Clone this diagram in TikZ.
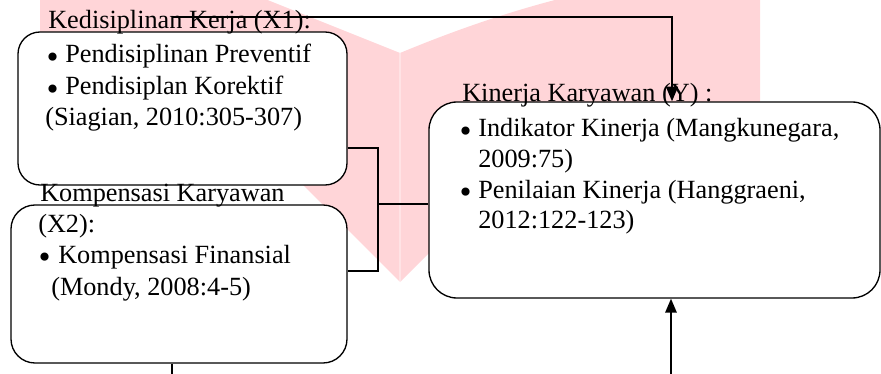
\documentclass[tikz,border=0pt]{standalone}
\usepackage{fontspec}
\setmainfont{Liberation Serif}
\newfontfamily\bulfont{DejaVu Sans}
\usetikzlibrary{arrows.meta}
\definecolor{wm}{RGB}{255,213,216}
\tikzset{
  box/.style={draw=black, line width=1pt, fill=white, rounded corners=#1, inner sep=0pt},
  txt/.style={anchor=base west, inner sep=0pt, font=\fontsize{19.7pt}{23pt}\selectfont},
  bul/.style={anchor=base west, inner sep=0pt, yshift=-3.1pt, font=\bulfont\fontsize{21pt}{23pt}\selectfont},
  conn/.style={line width=0.9pt},
  arr/.style={line width=1.1pt, -{Triangle[length=11pt,width=9pt]}},
  arrb/.style={line width=1.5pt, -{Triangle[length=10.5pt,width=8.5pt]}},
}
\begin{document}
\begin{tikzpicture}[x=0.75pt,y=-0.75pt]
\useasboundingbox (0,0) rectangle (881,374);
% watermark
\fill[wm] (40,-5) -- (40,130) -- (300,182) -- (400,282) -- (500,182) -- (760,182) -- (760,-5) -- (575,-5)
  .. controls (520,8) and (460,28) .. (400,53) -- (255,-5) -- cycle;
\draw[white, opacity=0.35, line width=2pt] (400,53) -- (400,282);
% boxes
\node[box=16.5pt, minimum width=246.75pt, minimum height=114.75pt] (x1) at (182.5,108.5) {};
\node[box=18pt, minimum width=252pt, minimum height=118.5pt] (x2) at (179,284) {};
\node[box=21pt, minimum width=338.25pt, minimum height=147pt] (y) at (654.5,200) {};
% texts X1
\node[txt] (l1) at (48,29) {Kedisiplinan Kerja (X1):};
\node[bul] (b11) at (44,63) {•};
\node[txt] (t11) at (65,63) {Pendisiplinan Preventif};
\node[bul] (b12) at (44,95) {•};
\node[txt] (t12) at (65,95) {Pendisiplan Korektif};
\node[txt] (t13) at (45,126) {(Siagian, 2010:305-307)};
% texts X2
\node[txt] (l2) at (40,201) {Kompensasi Karyawan};
\node[txt] (l2b) at (38,232) {(X2):};
\node[bul] (b21) at (36,263) {•};
\node[txt] (t21) at (58,263) {Kompensasi Finansial};
\node[txt] (t22) at (51,295) {(Mondy, 2008:4-5)};
% texts Y
\node[txt] (l3) at (462,102) {Kinerja Karyawan (Y) :};
\node[bul] (b31) at (457,137) {•};
\node[txt] (t31) at (478,137) {Indikator Kinerja (Mangkunegara,};
\node[txt] (t32) at (478,167) {2009:75)};
\node[bul] (b32) at (457,198) {•};
\node[txt] (t33) at (478,198) {Penilaian Kinerja (Hanggraeni,};
\node[txt] (t34) at (478,228) {2012:122-123)};
% connectors
\coordinate (j) at (378,204);
\draw[conn] (x1.east |- 0,148) -| (j);
\draw[conn] (x2.east |- 0,271) -| (j);
\draw[conn] (j) -- (j -| y.west);
\coordinate (s) at (172,17);
\coordinate (c) at (672,17);
\draw[arr] (s) -- (c) -- (c |- y.north);
\coordinate (bb) at (671,376);
\draw[arrb] (bb) -- (bb |- y.south);
\coordinate (xb) at (172,376);
\draw[conn] (x2.south -| xb) -- (xb);
\end{tikzpicture}
\end{document}
